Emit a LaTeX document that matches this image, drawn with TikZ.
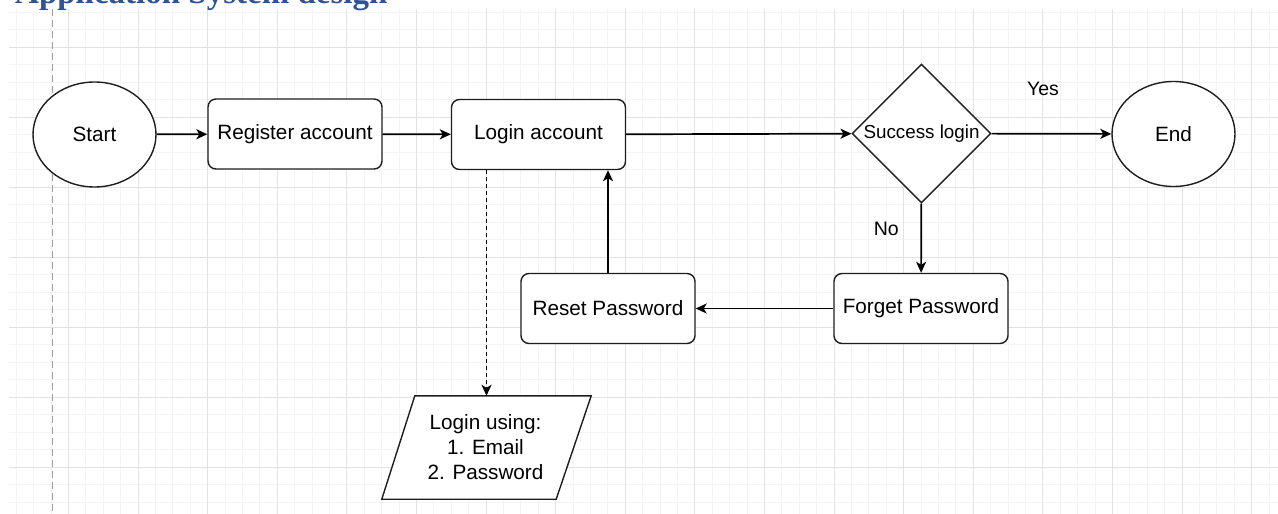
\documentclass[tikz,border=0pt]{standalone}
\usepackage{fontspec}
\setmainfont{Liberation Sans}
\newfontfamily\titlefont{Liberation Serif}
\usetikzlibrary{shapes.geometric,arrows.meta,calc}
\definecolor{gridminor}{RGB}{244,244,244}
\definecolor{gridmajor}{RGB}{226,226,226}
\definecolor{guide}{RGB}{160,160,160}
\definecolor{titleblue}{RGB}{47,84,150}
\definecolor{shapeline}{RGB}{30,30,30}
\begin{document}
\begin{tikzpicture}[x=1pt,y=-1pt,
  every node/.style={font=\fontsize{20.7}{25}\selectfont, text=black},
  rbox/.style={draw=shapeline, line width=1.4pt, rounded corners=8pt, fill=white, minimum width=174pt, minimum height=70pt, inner sep=0pt},
  ell/.style={draw=shapeline, line width=1.4pt, ellipse, fill=white, minimum width=123pt, minimum height=105pt, inner sep=0pt},
  dia/.style={draw=shapeline, line width=1.4pt, diamond, fill=white, minimum width=139pt, minimum height=139pt, inner sep=0pt, font=\fontsize{18.8}{22}\selectfont},
  paraframe/.style={draw=shapeline, line width=1.4pt, fill=white},
  conn/.style={line width=1.7pt, -{Stealth[length=11pt,width=10pt,inset=3pt]}},
  dconn/.style={conn, dash pattern=on 4pt off 3pt},
  lbl/.style={font=\fontsize{19.5}{23}\selectfont},
  minorline/.style={draw=gridminor, line width=1pt},
  majorline/.style={draw=gridmajor, line width=1pt},
  guideline/.style={draw=guide, line width=1pt, dash pattern=on 7pt off 4pt}
]
\useasboundingbox (0,0) rectangle (1278,514);
\clip (0,0) rectangle (1278,514);
\fill[white] (0,0) rectangle (1278,514);
% grid
\foreach \k in {-7,...,65} {
  \pgfmathsetmacro\xx{138+17.4*\k}
  \path[minorline] (\xx,9) -- (\xx,514);
}
\foreach \k in {-2,...,26} {
  \pgfmathsetmacro\yy{47+17.5*\k}
  \path[minorline] (9,\yy) -- (1278,\yy);
}
\foreach \k in {-1,...,16} {
  \pgfmathsetmacro\xx{138+69.6*\k}
  \path[majorline] (\xx,9) -- (\xx,514);
}
\foreach \k in {0,...,6} {
  \pgfmathsetmacro\yy{47+70*\k}
  \path[majorline] (9,\yy) -- (1278,\yy);
}
\path[guideline] (52,9) -- (52,514);
% title (cut off at the top, as in the reference)
\node[anchor=base west, inner sep=0pt, font=\titlefont\bfseries\fontsize{33}{36}\selectfont, text=titleblue] (title) at (15,3) {Application System design};
% nodes
\node[ell] (start) at (94.5,134.5) {Start};
\node[rbox] (reg) at (295,134) {Register account};
\node[rbox] (login) at (538.5,134.5) {Login account};
\node[dia] (succ) at (921.5,133.5) {Success login};
\node[ell] (end) at (1173.5,134) {End};
\node[rbox] (forget) at (921,308.5) {Forget Password};
\node[rbox] (reset) at (608,308.5) {Reset Password};
\node[minimum width=209pt, minimum height=103pt, inner sep=0pt] (para) at (486.5,447.5) {};
\path[paraframe] ($(para.north west)+(33,0)$) -- (para.north east) -- ($(para.south east)+(-35,0)$) -- (para.south west) -- cycle;
\node[align=center, inner sep=0pt] (paratext) at ($(para.center)+(-1,0)$) {Login using:\\1. Email\\2. Password};
% connectors
\draw[conn] (start) -- (reg);
\draw[conn] (reg) -- (login);
\draw[conn] (login) -- (succ);
\draw[conn] (succ) -- node[lbl, pos=0.43, yshift=45pt] (yes) {Yes} (end);
\draw[conn] (succ) -- node[lbl, pos=0.37, xshift=-35pt] (no) {No} (forget);
\draw[conn] (forget) -- (reset);
\draw[conn] (reset.north) -- (reset.north |- login.south);
\draw[dconn] (para.north |- login.south) -- (para.north);
\end{tikzpicture}
\end{document}
